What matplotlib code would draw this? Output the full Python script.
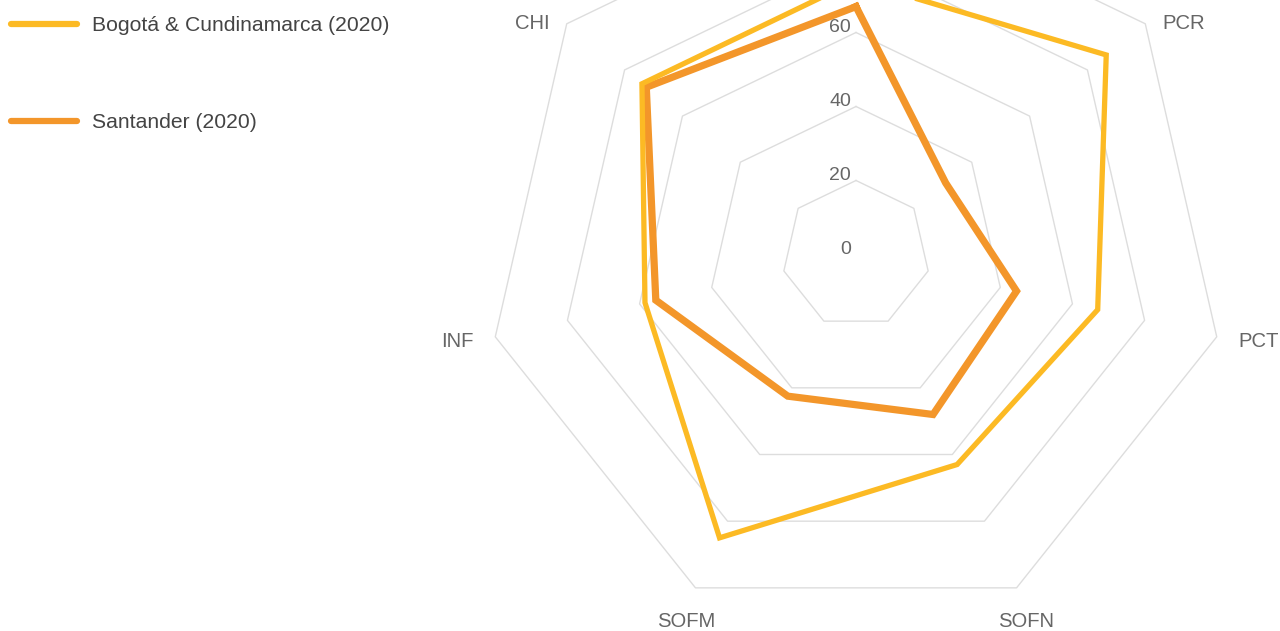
import numpy as np
import matplotlib.pyplot as plt
from matplotlib.lines import Line2D

plt.rcParams['font.family'] = ['Liberation Sans', 'DejaVu Sans']

# Radar chart data (top axis label is cut off in the reference)
categories = ['UCI', 'PCR', 'PCT', 'SOFN', 'SOFM', 'INF', 'CHI']
bogota = [74, 86.5, 67, 63, 85, 58.5, 74]
santander = [67, 31, 44.5, 48, 42.5, 55.5, 72.5]
series_names = ['Bogotá & Cundinamarca (2020)', 'Santander (2020)']
series_colors = ['#FCBA24', '#F3962A']
ring_values = [20, 40, 60, 80, 100]
tick_values = [0, 20, 40, 60, 80, 100]

n = len(categories)
theta = 2 * np.pi * np.arange(n) / n


def to_xy(values):
    r = np.asarray(values, dtype=float)
    x = r * np.sin(theta)
    y = r * np.cos(theta)
    # close the polygon
    return np.append(x, x[0]), np.append(y, y[0])


fig = plt.figure(figsize=(12.8, 6.31), dpi=100)
ax = fig.add_axes([0, 0, 1, 1])
ax.set_xlim(-231.35, 114.59)
ax.set_ylim(-101.76, 68.78)
ax.axis('off')
ytop = ax.get_ylim()[1]

# polygon grid rings
for v in ring_values:
    gx, gy = to_xy([v] * n)
    ax.plot(gx, gy, color='#DDDDDD', lw=1, zorder=1)

# data series
sx, sy = to_xy(santander)
ax.plot(sx, sy, color=series_colors[1], lw=5.2, solid_joinstyle='miter', zorder=3)
bx, by = to_xy(bogota)
ax.plot(bx, by, color=series_colors[0], lw=3.8, solid_joinstyle='miter', zorder=4)

# radial tick labels (the ones above the top edge are not visible anyway)
for v in tick_values:
    if v + 4 > ytop:
        continue
    ax.text(-1.35, v + 1.3, str(v), ha='right', va='center',
            fontsize=14, color='#666666', zorder=5)

# category labels
label_r = 106
for name, t in zip(categories, theta):
    s, c = np.sin(t), np.cos(t)
    if s > 0.5:
        ha = 'left'
    elif s < -0.5:
        ha = 'right'
    else:
        ha = 'center'
    va = 'center' if abs(c) < 0.5 else 'top'
    lx, ly = label_r * s, label_r * c
    if va == 'top':
        ly -= 1.2
    if ly > ytop:
        continue
    ax.text(lx, ly, name, ha=ha, va=va, fontsize=14.6, color='#666666')

# legend
handles = [Line2D([0], [0], color=col, lw=4.5, solid_capstyle='round')
           for col in series_colors]
leg = ax.legend(handles, series_names, loc='upper left',
                bbox_to_anchor=(-0.002, 0.996), frameon=False, fontsize=15.2,
                handlelength=3.1, handletextpad=0.75, labelspacing=3.7,
                borderaxespad=0.45, borderpad=0.2)
for txt in leg.get_texts():
    txt.set_color('#444444')

fig.savefig('out.png', dpi=100)
